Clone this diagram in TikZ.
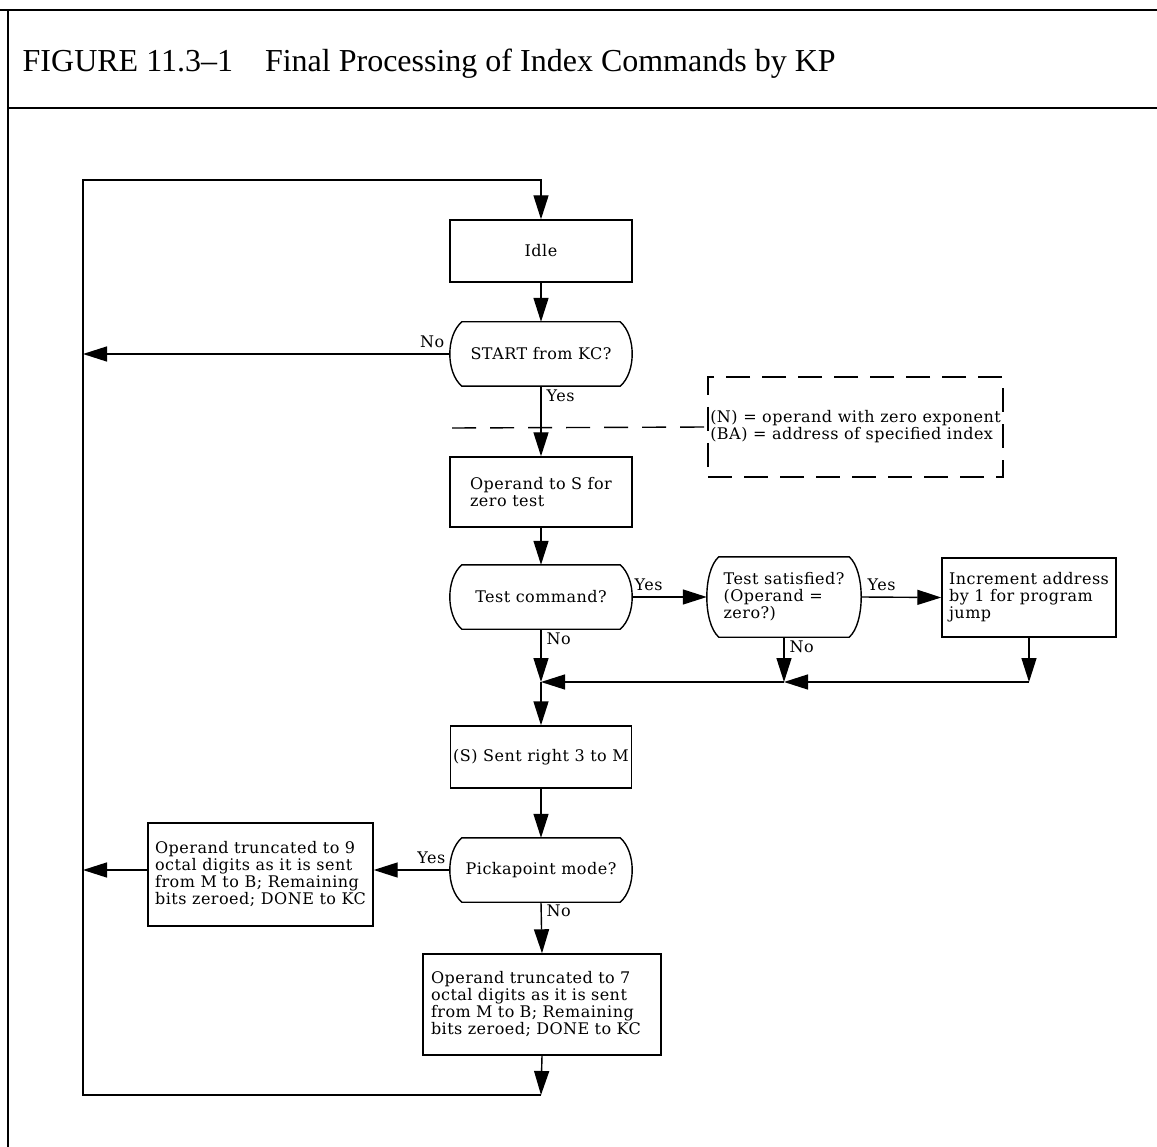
\documentclass[tikz,border=0pt]{standalone}
\usepackage{fontspec}
\setmainfont[LetterSpace=3]{DejaVu Serif}
\newfontfamily\titlefont{Liberation Serif}
\usetikzlibrary{arrows.meta}

% outline of a decision: flat top and bottom, bulging sides
\newcommand\decoutline[1]{%
  \draw ([xshift=12pt]#1.north west) -- ([xshift=-12pt]#1.north east)
    .. controls +(16,14) and +(16,-14) .. ([xshift=-12pt]#1.south east)
    -- ([xshift=12pt]#1.south west)
    .. controls +(-16,-14) and +(-16,14) .. ([xshift=12pt]#1.north west) -- cycle;}

\begin{document}
\begin{tikzpicture}[x=1pt,y=-1pt,line width=1.4pt,
  every node/.style={font=\fontsize{16}{17}\selectfont},
  box/.style={draw, rectangle, inner sep=0pt, align=left},
  dec/.style={rectangle, inner sep=0pt, minimum width=181pt, minimum height=63pt, align=left},
  flow/.style={-{Triangle[length=24pt,width=15pt]}},
  lbl/.style={inner sep=0pt},
  frame/.style={line width=2pt}]
\useasboundingbox (0,0) rectangle (1157,1147);

% page frame and title
\draw[frame] (0,10) -- (1157,10);
\draw[frame] (8,10) -- (8,1147);
\draw[frame] (8,108) -- (1157,108);
\node[anchor=base west, inner sep=0pt, font=\titlefont\fontsize{32}{32}\selectfont] (title) at (22,72)
  {FIGURE 11.3–1\quad Final Processing of Index Commands by KP};

% steps
\node[box, minimum width=182pt, minimum height=62pt] (idle) at (541,251) {Idle};
\node[dec] (start) at (541,354) {START from KC?};
\node[box, minimum width=182pt, minimum height=70pt] (opS) at (541,492) {Operand to S for\\zero test};
\node[dec] (tc) at (541,597) {Test command?};
\node[dec, minimum width=153pt, minimum height=79pt] (tsat) at (784,597) {Test satisfied?\\(Operand =\\zero?)};
\node[box, minimum width=174pt, minimum height=79pt] (incr) at (1029,597.5) {Increment address\\by 1 for program\\jump};
\node[box, minimum width=181pt, minimum height=62pt] (sent) at (541,757) {(S) Sent right 3 to M};
\node[dec] (pick) at (541,870) {Pickapoint mode?};
\node[box, minimum width=225pt, minimum height=103pt] (trunc9) at (260.5,874.5)
  {Operand truncated to 9\\octal digits as it is sent\\from M to B; Remaining\\bits zeroed; DONE to KC};
\node[box, text width=222pt, inner xsep=8pt, minimum height=101pt] (trunc7) at (542,1004.5)
  {Operand truncated to 7\\octal digits as it is sent\\from M to B; Remaining\\bits zeroed; DONE to KC};

\decoutline{start}
\decoutline{tc}
\decoutline{tsat}
\decoutline{pick}

% note box
\node[draw, dash pattern=on 24pt off 12pt, minimum width=295pt, minimum height=100pt, inner sep=0pt, align=left] (note) at (855.5,427)
  {(N) = operand with zero exponent\\(BA) = address of specified index};
\coordinate (dl) at (452,428);
\draw[dash pattern=on 24pt off 14pt] (dl) -- (note.west);

% junctions
\coordinate (j1) at (541,682);
\coordinate (j2) at (784,682);
\coordinate (j3) at (1029,682);
\coordinate (jb) at (541,1095);
\coordinate (lb) at (83,1095);
\coordinate (lt) at (83,180);
\coordinate (tt) at (541,180);

% connectors
\draw[flow] (trunc7.south) -- (jb);
\draw[flow] (jb) -- (lb) -- (lt) -- (tt) -- (idle.north);
\draw[flow] (idle.south) -- (start.north);
\draw[flow] (start.west) -- (start.west -| lt);
\draw[flow] (start.south) -- (opS.north);
\draw[flow] (opS.south) -- (tc.north);
\draw[flow] (tc.east) -- (tsat.west);
\draw[flow] (tsat.east) -- (incr.west);
\draw[flow] (tc.south) -- (j1);
\draw[flow] (tsat.south) -- (j2);
\draw[flow] (incr.south) -- (j3);
\draw[flow] (j3) -- (j2);
\draw[flow] (j2) -- (j1);
\draw[flow] (j1) -- (sent.north);
\draw[flow] (sent.south) -- (pick.north);
\draw[flow] (pick.west) -- (pick.west -| trunc9.east);
\draw[flow] (trunc9.west |- pick.west) -- (pick.west -| lt);
\draw[flow] (pick.south) -- (trunc7.north);

% branch labels
\node[lbl, anchor=base east] (nostart) at (445,348) {No};
\node[lbl, anchor=base west] (yesstart) at (546,402) {Yes};
\node[lbl, anchor=base west] (yestc) at (634,590) {Yes};
\node[lbl, anchor=base west] (notc) at (546,644) {No};
\node[lbl, anchor=base west] (yestsat) at (867,590) {Yes};
\node[lbl, anchor=base west] (notsat) at (789,652) {No};
\node[lbl, anchor=base east] (yespick) at (446,863) {Yes};
\node[lbl, anchor=base west] (nopick) at (546,916) {No};
\end{tikzpicture}
\end{document}
